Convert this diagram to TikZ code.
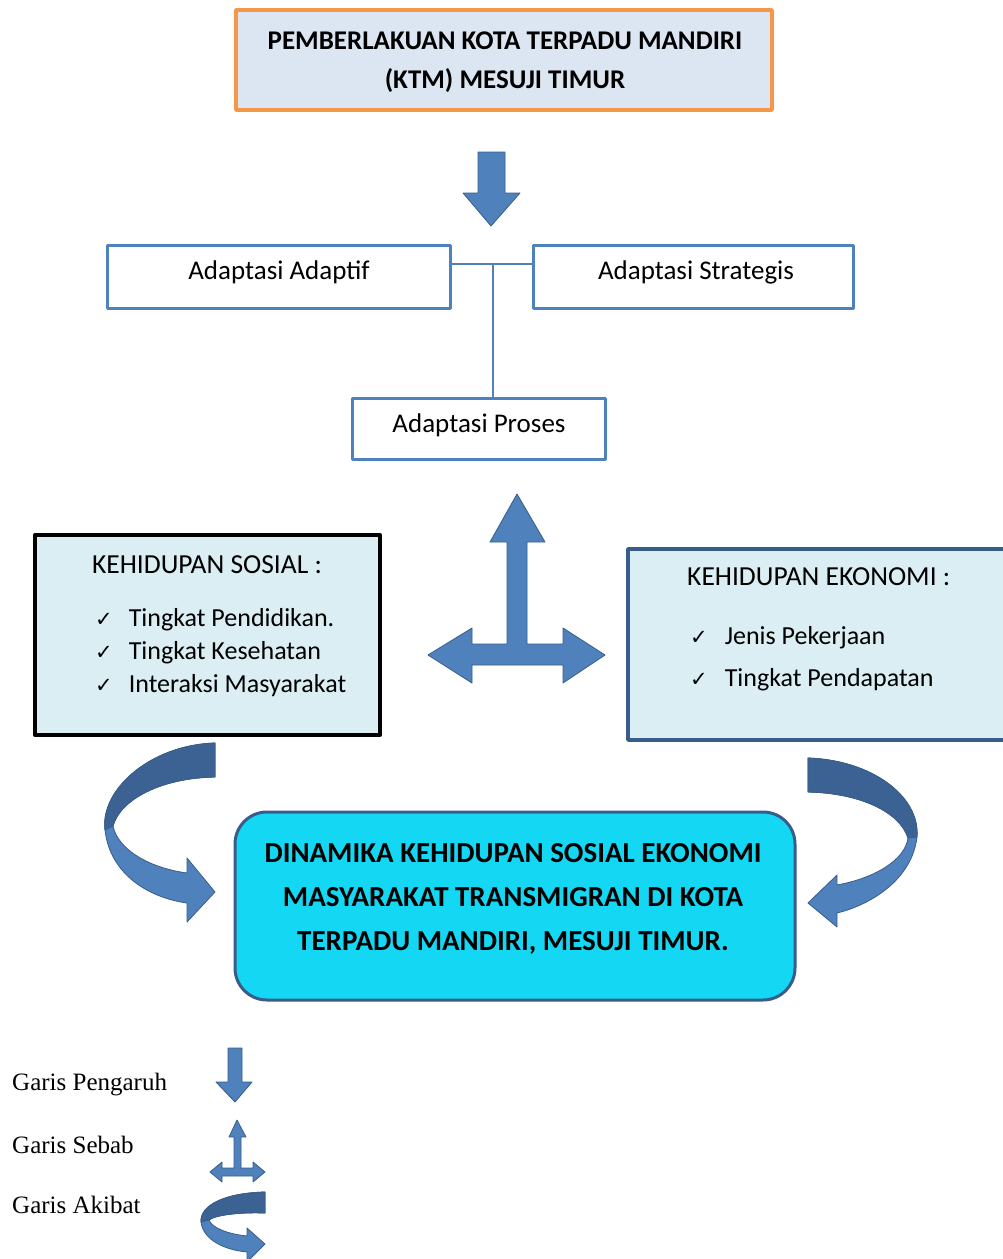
\documentclass[tikz,border=0pt]{standalone}
\usepackage{fontspec}
\setmainfont{Carlito}
\newfontfamily\legendfont{Liberation Serif}
\newfontfamily\symfont{DejaVu Sans}
\definecolor{oranye}{HTML}{F79646}
\definecolor{abubiru}{HTML}{DCE6F2}
\definecolor{biru}{HTML}{4F81BD}
\definecolor{birutua}{HTML}{385D8A}
\definecolor{birumuda}{HTML}{DAEEF3}
\definecolor{cyanterang}{HTML}{14D8F3}
\newcommand{\cek}{{\symfont\fontsize{21}{21}\selectfont ✓}}
\begin{document}
\begin{tikzpicture}[x=1pt,y=-1pt,line join=round,
    kotak/.style={draw=biru,line width=3pt,minimum height=63pt,inner sep=0pt},
    judul/.style={font=\bfseries\fontsize{27}{39}\selectfont,align=center,inner sep=0pt},
    teks/.style={font=\fontsize{26}{30}\selectfont,inner sep=0pt},
    ket/.style={font=\legendfont\fontsize{25}{25}\selectfont,inner sep=0pt,anchor=west},
    panah/.style={fill=biru,draw=birutua,line width=.8pt},
    panahgelap/.style={fill=birutua!85!biru,draw=birutua,line width=.8pt}]
    \fill[white] (0,0) rectangle (1003,1259);
    \useasboundingbox (0,0) rectangle (1003,1259);
    % kotak atas
    \node[draw=oranye,fill=abubiru,line width=3.5pt,minimum width=536pt,minimum height=100pt] (ktm) at (504,60) {};
    \node[judul] (ktmteks) at (505,62) {PEMBERLAKUAN KOTA TERPADU MANDIRI\\(KTM) MESUJI TIMUR};
    \draw[panah] (478,152)--(505,152)--(505,193)--(520,193)--(491,226)--(463,193)--(478,193)--cycle;
    % adaptasi
    \node[kotak,minimum width=343pt] (adaptif) at (278.5,276.5) {};
    \node[kotak,minimum width=320pt] (strategis) at (693,276.5) {};
    \node[kotak,minimum width=253pt,minimum height=61pt] (proses) at (478.5,428.5) {};
    \node[teks,font=\fontsize{27}{30}\selectfont] at (279,272) {Adaptasi Adaptif};
    \node[teks,font=\fontsize{27}{30}\selectfont] at (696,272) {Adaptasi Strategis};
    \node[teks,font=\fontsize{27}{30}\selectfont] at (479,425) {Adaptasi Proses};
    \coordinate (simpul) at (493,264);
    \draw[biru,line width=1.5pt]
    (simpul -| adaptif.east) -- (simpul -| strategis.west)
    (simpul) -- (simpul |- proses.north)
    ;
    % panah tiga arah
    \draw[panah] (517,494)--(545,542)--(527,542)--(527,644)--(563,644)--(563,628)--(605,655)
    --(563,683)--(563,665)--(472,665)--(472,683)--(428,655)--(472,628)--(472,644)
    --(507,644)--(507,542)--(490,542)--cycle;
    % kehidupan sosial
    \node[draw=black,fill=birumuda,line width=4pt,minimum width=345pt,minimum height=200pt] (sosial) at (207.5,635) {};
    \node[teks,font=\fontsize{27.5}{30}\selectfont] at (207,565) {KEHIDUPAN SOSIAL :};
    \node[teks,anchor=west] at (95,620) {\cek\hspace{16pt}Tingkat Pendidikan.};
    \node[teks,anchor=west] at (95,653) {\cek\hspace{16pt}Tingkat Kesehatan};
    \node[teks,anchor=west] at (95,686) {\cek\hspace{16pt}Interaksi Masyarakat};
    % kehidupan ekonomi
    \node[draw=birutua,fill=birumuda,line width=3.5pt,minimum width=390pt,minimum height=191pt] (ekonomi) at (823,644.5) {};
    \node[teks,anchor=west,font=\fontsize{27.5}{30}\selectfont] at (687,577) {KEHIDUPAN EKONOMI :};
    \node[teks,anchor=west] at (690,638) {\cek\hspace{17pt}Jenis Pekerjaan};
    \node[teks,anchor=west] at (690,680) {\cek\hspace{17pt}Tingkat Pendapatan};
    % dinamika
    \node[draw=birutua,fill=cyanterang,line width=3pt,rounded corners=32pt,minimum width=560pt,minimum height=188pt] (dinamika) at (515,906) {};
    \node[judul,font=\bfseries\fontsize{29}{44}\selectfont] at (513,899) {DINAMIKA KEHIDUPAN SOSIAL EKONOMI\\MASYARAKAT TRANSMIGRAN DI KOTA\\TERPADU MANDIRI, MESUJI TIMUR.};
    % panah lengkung
    \draw[panah] (215,743) .. controls (150,745) and (100,790) .. (105,830)
    .. controls (110,875) and (150,898) .. (187,903) -- (187,922) -- (215,892) -- (187,858) -- (187,873)
    .. controls (150,868) and (118,850) .. (113,826)
    .. controls (120,800) and (160,778) .. (215,777) -- cycle;
    \draw[panahgelap] (215,743) .. controls (150,745) and (100,790) .. (105,830) -- (113,826)
    .. controls (120,800) and (160,778) .. (215,777) -- cycle;
    \draw[panah] (808,758) .. controls (870,760) and (920,795) .. (917,837)
    .. controls (912,880) and (870,905) .. (837,913) -- (837,927) -- (808,903) -- (837,875) -- (837,885)
    .. controls (875,878) and (905,860) .. (908,838)
    .. controls (900,812) and (860,793) .. (808,792) -- cycle;
    \draw[panahgelap] (808,758) .. controls (870,760) and (920,795) .. (917,837) -- (908,838)
    .. controls (900,812) and (860,793) .. (808,792) -- cycle;
    % keterangan
    \node[ket] (pengaruh) at (12,1085) {Garis Pengaruh};
    \node[ket] (sebab) at (12,1145) {Garis Sebab};
    \node[ket] (akibat) at (12,1205) {Garis Akibat};
    \draw[panah] (228,1048)--(242,1048)--(242,1082)--(252,1082)--(235,1102)--(216,1082)--(228,1082)--cycle;
    \draw[panah] (237,1120)--(246,1137)--(241,1137)--(241,1168)--(253,1168)--(253,1162)--(265,1172)
    --(253,1182)--(253,1176)--(222,1176)--(222,1182)--(210,1172)--(222,1162)--(222,1168)
    --(234,1168)--(234,1137)--(229,1137)--cycle;
    \draw[panah] (265,1192) .. controls (225,1193) and (200,1205) .. (201,1222)
    .. controls (203,1240) and (225,1250) .. (247,1252) -- (247,1262) -- (265,1244) -- (247,1228) -- (247,1236)
    .. controls (228,1234) and (212,1228) .. (209,1220)
    .. controls (215,1215) and (240,1212) .. (265,1213) -- cycle;
    \draw[panahgelap] (265,1192) .. controls (225,1193) and (200,1205) .. (201,1222) -- (209,1220)
    .. controls (215,1215) and (240,1212) .. (265,1213) -- cycle;
\end{tikzpicture}
\end{document}
